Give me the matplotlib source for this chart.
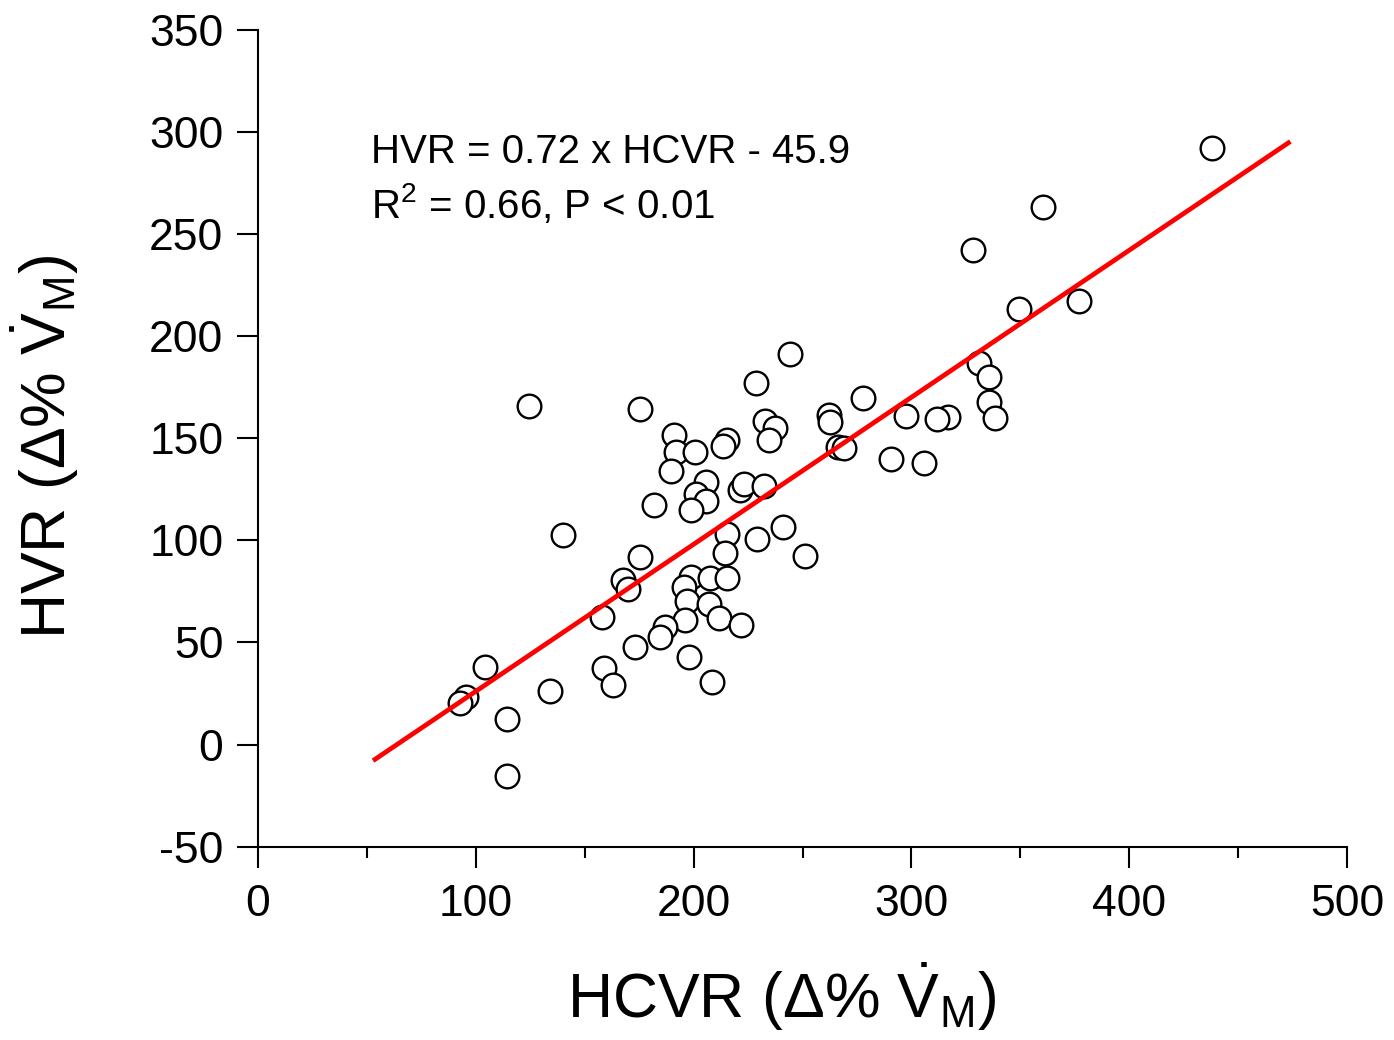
import numpy as np
import matplotlib
matplotlib.use('Agg')
import matplotlib.pyplot as plt

# Datos (HCVR, HVR)
hcvr = [437.8, 360.6, 328.4, 377.1, 349.6, 244.4, 228.8, 331.2, 335.8, 335.8,
        338.5, 316.8, 311.8, 297.7, 277.8, 262.0, 262.7, 266.3, 268.9, 290.6,
        305.9, 124.3, 175.2, 191.2, 191.8, 200.5, 189.6, 215.3, 213.3, 232.7,
        237.3, 234.6, 205.8, 201.3, 205.8, 198.7, 221.1, 223.1, 232.4, 181.6,
        241.0, 215.5, 228.9, 214.5, 251.1, 140.0, 175.5, 167.7, 170.0, 198.7,
        195.5, 197.1, 207.6, 215.1, 207.2, 211.8, 221.9, 196.1, 187.0, 184.7,
        173.2, 197.7, 208.4, 157.8, 158.9, 163.0, 104.0, 95.5, 92.6, 134.1,
        114.5, 114.5]
hvr = [292.2, 263.3, 242.2, 217.3, 213.4, 191.3, 177.1, 186.9, 180.0, 167.8,
       160.0, 160.6, 159.3, 160.9, 169.6, 161.4, 158.2, 145.9, 145.1, 139.7,
       137.8, 166.0, 164.2, 151.6, 143.5, 143.5, 134.2, 149.2, 146.2, 158.6,
       154.9, 149.2, 128.8, 122.5, 119.5, 114.9, 124.9, 127.6, 126.8, 117.1,
       106.6, 102.9, 100.5, 93.7, 92.4, 102.7, 91.9, 80.4, 76.2, 82.1,
       77.0, 70.3, 81.5, 81.5, 68.9, 61.9, 58.6, 61.0, 57.7, 52.7,
       47.8, 42.9, 30.5, 62.3, 37.3, 29.2, 37.9, 23.3, 20.6, 26.0,
       12.3, -15.2]

# Recta de regresion: HVR = 0.72 x HCVR - 45.9
pendiente, ordenada = 0.72, -45.9
rango_recta = [53.7, 473.1]

plt.rcParams['font.family'] = ['Liberation Sans', 'DejaVu Sans']
plt.rcParams['mathtext.fontset'] = 'custom'
plt.rcParams['mathtext.rm'] = 'Liberation Sans'
plt.rcParams['mathtext.it'] = 'Liberation Sans:italic'
plt.rcParams['mathtext.bf'] = 'Liberation Sans:bold'
plt.rcParams['axes.unicode_minus'] = False

fig = plt.figure(figsize=(13.94, 10.40), dpi=100)
ax = fig.add_axes([0.1851, 0.1859, 0.7812, 0.7853])

ax.scatter(hcvr, hvr, s=290, facecolors='white', edgecolors='black',
           linewidths=1.7, zorder=3)

xr = np.array(rango_recta)
ax.plot(xr, pendiente * xr + ordenada, color='#ff0000', lw=3.4, zorder=4)

ax.set_xlim(0, 500)
ax.set_ylim(-50, 350)
ax.set_xticks(np.arange(0, 501, 100))
ax.set_xticks(np.arange(50, 500, 100), minor=True)
ax.set_yticks(np.arange(-50, 351, 50))

for lado in ['top', 'right']:
    ax.spines[lado].set_visible(False)
for lado in ['left', 'bottom']:
    ax.spines[lado].set_linewidth(1.5)

ax.tick_params(axis='both', which='major', direction='out', length=15,
               width=1.5, labelsize=32, pad=10)
ax.tick_params(axis='x', which='minor', direction='out', length=8, width=1.5)
ax.tick_params(axis='x', which='major', pad=12)

# Etiquetas de los ejes (V con punto y subindice M)
etiqueta_v = r'$\dot{\mathrm{V}}_{\mathrm{M}}$'
ax.set_xlabel('HCVR (Δ% ' + etiqueta_v + ')', fontsize=45)
ax.set_ylabel('HVR (Δ% ' + etiqueta_v + ')', fontsize=45)
ax.xaxis.set_label_coords(0.481, -0.139)
ax.yaxis.set_label_coords(-0.163, 0.489)

ax.text(52, 290, 'HVR = 0.72 x HCVR - 45.9', fontsize=29, va='center')
ax.text(52, 265, r'R$^{2}$ = 0.66, P < 0.01', fontsize=29, va='center')

fig.savefig('out.png', dpi=100)
